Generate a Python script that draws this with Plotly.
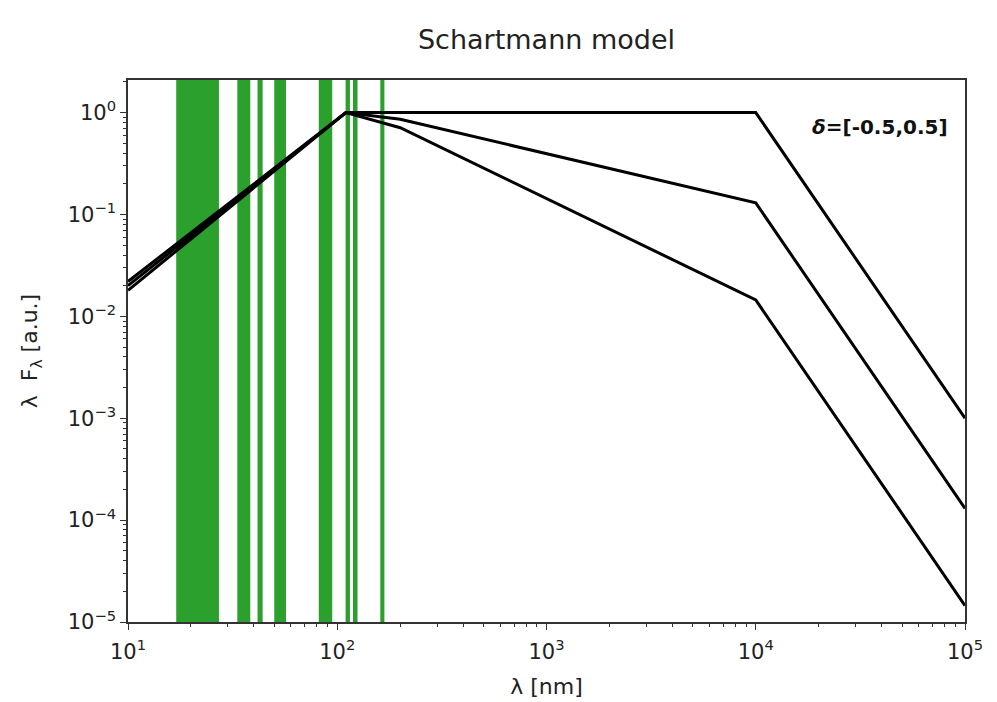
import plotly.graph_objects as go

# wavelength grid points (nm) and lambda*F_lambda values for the three models
wavelength = [10, 110, 200, 1e4, 1e5]
flux_top = [0.022, 1.0, 1.0, 1.0, 1.0e-3]
flux_mid = [0.020, 1.0, 0.86, 0.13, 1.3e-4]
flux_bot = [0.018, 1.0, 0.71, 0.0145, 1.45e-5]

# green bands (nm): start, end
band_start = [17.0, 33.3, 41.6, 50.0, 81.6, 109.6, 118.9, 160.6]
band_end = [27.2, 38.4, 44.0, 56.9, 94.6, 115.0, 125.0, 168.0]

x_ticks = [10, 100, 1000, 1e4, 1e5]
x_ticktext = ["10<sup>1</sup>", "10<sup>2</sup>", "10<sup>3</sup>", "10<sup>4</sup>", "10<sup>5</sup>"]
y_ticks = [1e-5, 1e-4, 1e-3, 1e-2, 1e-1, 1]
y_ticktext = ["10<sup>−5</sup>", "10<sup>−4</sup>", "10<sup>−3</sup>", "10<sup>−2</sup>", "10<sup>−1</sup>", "10<sup>0</sup>"]

FONT = "DejaVu Sans"
TXT = "#222222"

fig = go.Figure()
for ys in (flux_top, flux_mid, flux_bot):
    fig.add_trace(go.Scatter(x=wavelength, y=ys, mode="lines",
                             line=dict(color="black", width=3), showlegend=False))

for s, e in zip(band_start, band_end):
    fig.add_vrect(x0=s, x1=e, fillcolor="#2ca02c", opacity=1, line_width=0, layer="below")

def axis():
    return dict(
        type="log", showline=True, linecolor="#333333", linewidth=1.5, mirror=True,
        ticks="outside", ticklen=6, tickwidth=1.2, tickcolor="#333333",
        showgrid=False, zeroline=False, automargin=False,
        tickfont=dict(family=FONT, size=21, color=TXT),
        minor=dict(dtick="D1", ticks="outside", ticklen=3,
                   tickwidth=1, tickcolor="#333333", showgrid=False),
    )

W, H = 989, 694
fig.update_layout(
    width=W, height=H,
    margin=dict(l=120, r=32, t=72, b=80),
    plot_bgcolor="white", paper_bgcolor="white",
    title=dict(text="Schartmann model", x=(120 + 418.5) / W, xanchor="center",
               y=1 - 32 / H, yanchor="middle",
               font=dict(family=FONT, size=27, color=TXT)),
    xaxis=dict(axis(), range=[1, 5], tickvals=x_ticks, ticktext=x_ticktext,
               ticklabelstandoff=4,
               title=dict(text="λ [nm]", font=dict(family=FONT, size=22, color=TXT), standoff=16)),
    yaxis=dict(axis(), range=[-5, 0.32], tickvals=y_ticks, ticktext=y_ticktext,
               title=dict(text="λ  F<sub>λ</sub> [a.u.]", font=dict(family=FONT, size=22, color=TXT), standoff=24)),
    annotations=[dict(text="<b><i>δ</i>=[-0.5,0.5]</b>", xref="paper", yref="paper",
                      x=0.982, y=0.913, xanchor="right", yanchor="middle", showarrow=False,
                      font=dict(family=FONT, size=20, color="#111111"))],
)

fig.write_html("out.html")
